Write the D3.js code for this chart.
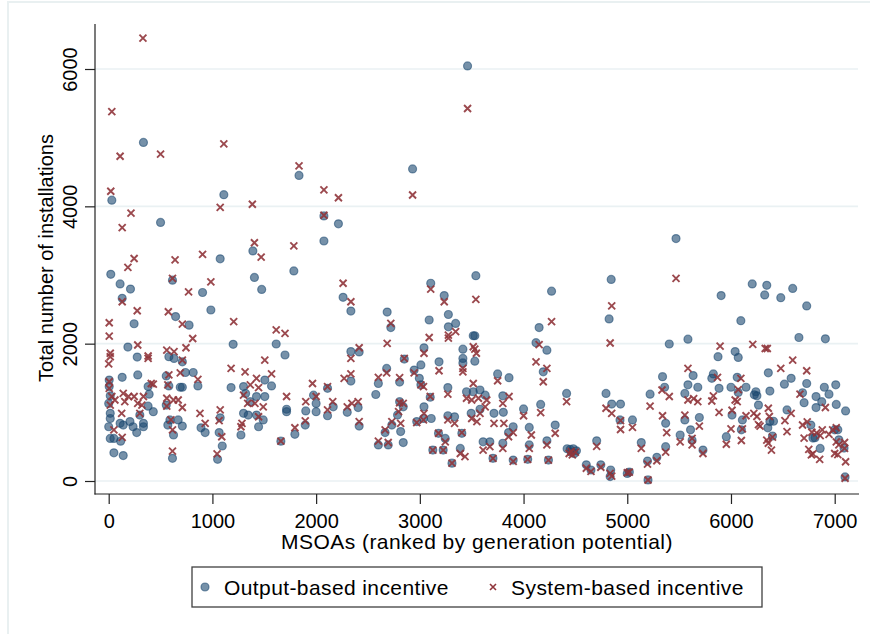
<!DOCTYPE html>
<html>
<head>
<meta charset="utf-8">
<title>installations scatter</title>
<script src="https://d3js.org/d3.v7.min.js"></script>
<style>
  body { margin: 0; background: #fff; }
  text { font-family: Arial, "Liberation Sans", sans-serif; fill: #000; }
</style>
</head>
<body>
<script>

// [rank, total installations]
var outputPoints = [
  [335,4930],[30,4090],[500,3765],[1110,4170],[1835,4450],[2075,3860],[2215,3745],[2075,3495],[1390,3350],[1075,3235],
  [3460,6045],[2930,4545],[5470,3530],
  [20,3010],[110,2870],[210,2795],[130,2660],[245,2290],[185,1950],[275,1805],[280,1545],[130,1510],[5,1470],[5,1375],
  [15,1240],[0,1130],[15,985],[15,910],[0,790],[15,620],[50,620],[50,410],[140,370],[110,840],[140,815],[205,865],
  [235,790],[270,705],[335,840],[335,790],[115,580],[300,960],[380,1375],[390,1265],[380,1090],[430,1010],[615,2925],
  [645,2395],[775,2270],[580,1810],[630,1785],[710,1735],[740,1580],[815,1580],[555,1530],[580,1385],[690,1365],
  [710,1365],[860,1385],[555,1105],[590,890],[570,815],[670,890],[625,670],[710,800],[615,330],[905,2745],[985,2490],
  [1200,1990],[1180,1360],[890,775],[930,705],[1075,920],[1065,705],[1095,510],[1050,315],[1405,2965],[1475,2790],
  [1785,3060],[1615,1995],[1700,1835],[1300,1375],[1320,1275],[1425,1230],[1505,1230],[1505,1470],[1570,1385],
  [1365,1155],[1300,985],[1345,960],[1425,960],[1490,890],[1445,790],[1275,670],[1715,1045],[1715,1010],[1795,680],
  [1895,815],[1900,1020],[1975,1250],[2000,1130],[2000,1010],[2110,950],[2110,1350],[2165,1080],[2300,1000],
  [2260,2675],[2335,2475],[2335,1885],[2335,1455],[1660,580],
  [2415,1880],[2405,1070],[2415,800],[2685,2460],[2720,2235],[2850,1775],[2680,1640],[2600,1420],[2575,1260],
  [2805,1440],[2805,1155],[2840,1080],[2785,960],[2730,815],[2665,705],[2600,525],[2695,525],[2840,560],[2815,720],
  [3105,2880],[3235,2700],[3275,2425],[3275,2245],[3345,2295],[3090,2345],[3540,2990],[3530,2115],[3515,2115],
  [3530,1745],[3415,1920],[3415,1785],[3415,1720],[3040,1940],[3185,1735],[3010,1690],[2945,1615],[2995,1495],
  [3010,1400],[3100,1220],[3040,1080],[3035,910],[3110,910],[2970,865],[3270,1360],[3270,950],[3335,935],[3180,695],
  [3245,620],[3405,695],[3125,450],[3225,450],[3310,260],[3390,475],[3450,1300],[3515,1300],[3580,1325],[3630,1250],
  [3750,1560],[3860,1505],[3800,1240],[3495,985],[3580,1045],[3715,985],[3805,1000],[3900,790],[3855,705],[3800,550],
  [3610,570],[3675,570],[3705,330],[3900,305],[4000,1050],[4055,780],[4055,525],[4040,315],[4150,2235],[4120,2015],
  [4225,1905],[4190,1590],[4270,2765],[4165,1115],[4305,815],[4225,585],[4240,305],[4415,1275],[4420,470],[4450,460],
  [4480,470],[4510,440],[4460,420],[4490,400],[4705,585],[4605,235],[4650,160],[4745,235],[4845,2935],[4825,2360],
  [4795,1275],
  [5405,1995],[5585,2065],[5905,2700],[6205,2870],[6345,2850],[6325,2710],[6480,2670],[6595,2805],[6730,2550],
  [6095,2335],[6655,2090],[6910,2070],[5875,1810],[6040,1885],[6070,1800],[5340,1520],[5360,1365],[5220,1265],
  [4850,1120],[4935,1120],[4930,890],[5050,890],[5135,560],[5195,290],[5285,345],[5370,500],[5200,15],[4840,160],
  [4835,65],[5000,110],[5020,130],[5370,840],[5510,670],[5610,745],[5625,595],[5555,890],[5695,925],[5730,450],
  [5555,1275],[5585,1400],[5635,1535],[5680,1365],[5815,1495],[5830,1560],[5885,1350],[6000,1365],[6060,1510],
  [6070,1290],[6145,1365],[6240,1300],[6225,1255],[6250,1240],[6265,1105],[6360,1575],[6375,1310],[6515,1410],
  [6580,1495],[6730,1420],[6690,1285],[6705,1140],[6820,1230],[6820,1070],[6875,1155],[6900,1365],[6945,1265],
  [7010,1400],[7015,1115],[7105,1020],[6540,1035],[6375,865],[6410,870],[6355,775],[6400,655],[6110,890],[6010,960],
  [6100,745],[5955,645],[6770,815],[6790,625],[6810,630],[6860,475],[7000,745],[7030,745],[7040,600],[7090,480],
  [7100,60]
];

var systemPoints = [
  [330,6450],[30,5380],[110,4730],[500,4760],[1110,4910],[1835,4590],[20,4220],[215,3900],[130,3690],[1075,3985],
  [1385,4030],[2075,4240],[2215,4125],[2075,3870],[1405,3470],[1470,3260],[1785,3425],[905,3300],[245,3240],[640,3220],
  [3460,5425],[2930,4165],
  [185,3110],[615,2950],[985,2900],[770,2755],[130,2610],[275,2480],[5,2305],[5,2110],[15,1860],[15,1810],[0,1705],
  [280,1980],[380,1820],[380,1785],[575,2465],[710,2285],[810,2075],[745,1940],[560,1905],[630,1885],[710,1760],
  [690,1575],[860,1480],[580,1545],[570,1400],[410,1420],[430,1410],[5,1445],[5,1350],[30,1230],[60,1180],[140,1275],
  [190,1230],[245,1230],[335,1230],[155,1155],[280,1130],[320,1105],[15,1105],[125,985],[300,985],[50,745],[130,635],
  [560,1205],[625,1180],[670,1180],[710,1070],[560,1090],[615,745],[600,890],[615,435],[880,985],[930,840],[1075,1035],
  [1065,880],[1090,645],[1045,395],[1180,1640],[1205,2320],[1315,1590],[1425,1495],[1505,1760],[1570,1560],[1300,1250],
  [1365,1400],[1445,1360],[1340,1130],[1410,1130],[1490,1080],[1445,935],[1285,840],[1275,790],[1615,2200],[1700,2150],
  [1715,1230],[1795,775],[1895,875],[1965,1420],[1900,1155],[2000,1230],[2110,1375],[2160,1155],[2110,1035],[2260,2880],
  [2335,2610],[2335,1785],[2335,1560],[2270,1495],[2300,1080],[1660,580],
  [2415,1940],[2405,1155],[2415,865],[2345,1130],[3105,2795],[3235,2610],[3540,2645],[3090,2090],[3275,2125],
  [3345,2175],[3275,2080],[2720,2295],[2685,2005],[2850,1785],[2680,1575],[2600,1510],[2805,1505],[2805,1140],
  [2795,1010],[2730,865],[2665,745],[2600,580],[2695,560],[2815,840],[2840,1130],[3530,1920],[3545,1860],[3515,1955],
  [3415,1640],[3415,1590],[3515,1420],[3040,1860],[3185,1605],[2945,1575],[3010,1400],[3035,1375],[3100,1230],
  [3040,985],[3035,890],[2970,850],[3270,1265],[3270,890],[3335,840],[3180,695],[3245,570],[3405,705],[3125,450],
  [3225,450],[3310,260],[3390,400],[3435,355],[3450,1205],[3500,1180],[3565,1205],[3630,1080],[3645,1180],[3750,1460],
  [3860,1230],[3800,1130],[3500,910],[3580,985],[3550,865],[3715,840],[3810,840],[3900,705],[3855,645],[3800,475],
  [3610,450],[3675,500],[3705,330],[3900,285],[4000,950],[4075,670],[4055,475],[4040,315],[4150,1985],[4120,1735],
  [4225,1640],[4190,1445],[4270,2320],[4165,995],[4305,695],[4225,525],[4240,305],[4415,1155],[4440,400],[4470,380],
  [4500,420],[4460,430],[4705,505],[4605,185],[4650,140],[4745,200],[4850,2550],[4835,2010],[4795,1060],
  [5470,2950],[5895,1965],[6210,1990],[6330,1930],[6350,1930],[6595,1760],[6730,1605],[6480,1640],[5585,1640],
  [5335,1325],[5405,1230],[5220,1090],[4850,985],[4935,880],[4935,750],[5050,780],[5135,475],[5195,245],[5285,295],
  [5370,420],[5200,15],[4835,110],[4850,70],[5000,120],[5020,130],[5340,950],[5380,705],[5510,570],[5555,960],
  [5625,525],[5625,620],[5695,800],[5730,400],[5585,1180],[5680,1155],[5640,1200],[5815,1165],[5830,1240],[5885,1000],
  [5870,1510],[5955,535],[6010,1030],[6000,760],[6060,1155],[6040,1180],[6070,1330],[6095,1495],[6110,760],[6100,590],
  [6145,950],[6220,985],[6250,940],[6265,820],[6280,800],[6360,1060],[6370,940],[6345,595],[6360,550],[6390,450],
  [6400,640],[6520,880],[6540,720],[6580,985],[6665,1265],[6690,815],[6705,625],[6735,860],[6750,460],[6775,380],
  [6790,395],[6855,315],[6825,700],[6860,660],[6910,1070],[6880,745],[6945,680],[6980,745],[7015,775],[7000,400],
  [7030,385],[7015,570],[7040,525],[7095,560],[7095,475],[7105,280],[7100,40],[6780,710]
];

var xTicks = [0, 1000, 2000, 3000, 4000, 5000, 6000, 7000];
var yTicks = [0, 2000, 4000, 6000];
var seriesNames = ["Output-based incentive", "System-based incentive"];
var xTitle = "MSOAs (ranked by generation potential)";
var yTitle = "Total number of installations";

var width = 870, height = 634;
var navy = "#1a476f", maroon = "#90353b";

var svg = d3.select("body").append("svg").attr("width", width).attr("height", height);

// faint outer graph region edge
svg.append("path").attr("d", "M8,634V2H870").attr("fill", "none")
  .attr("stroke", "#e9f0f1").attr("stroke-width", 2);

var x = d3.scaleLinear().domain([0, 7000]).range([108.7, 834.7]);
var y = d3.scaleLinear().domain([0, 6000]).range([481, 69]);
var plotLeft = 95, plotRight = 859, plotTop = 24, plotBottom = 494;

// gridlines
svg.append("g").selectAll("line").data(yTicks).enter().append("line")
  .attr("x1", plotLeft).attr("x2", plotRight - 1)
  .attr("y1", function(d){ return y(d); }).attr("y2", function(d){ return y(d); })
  .attr("stroke", "#eaf1f3").attr("stroke-width", 1.6);

// output-based circles
svg.append("g").selectAll("circle").data(outputPoints).enter().append("circle")
  .attr("cx", function(d){ return x(d[0]); })
  .attr("cy", function(d){ return y(d[1]); })
  .attr("r", 4)
  .attr("fill", navy).attr("fill-opacity", 0.6)
  .attr("stroke", navy).attr("stroke-opacity", 0.55).attr("stroke-width", 1.2);

// system-based crosses, drawn over the circles
var cross = "M-3.5,-3.5L3.5,3.5M-3.5,3.5L3.5,-3.5";
svg.append("g").selectAll("path").data(systemPoints).enter().append("path")
  .attr("d", cross)
  .attr("transform", function(d){ return "translate(" + x(d[0]) + "," + y(d[1]) + ")"; })
  .attr("fill", "none").attr("stroke", maroon).attr("stroke-width", 1.9).attr("stroke-opacity", 0.9);

// axis lines
svg.append("line").attr("x1", plotLeft).attr("x2", plotLeft).attr("y1", plotTop).attr("y2", plotBottom + 0.5)
  .attr("stroke", "#222").attr("stroke-width", 1.2);
svg.append("line").attr("x1", plotLeft - 0.5).attr("x2", plotRight).attr("y1", plotBottom).attr("y2", plotBottom)
  .attr("stroke", "#222").attr("stroke-width", 1.2);

// x axis
var xAxis = svg.append("g").attr("transform", "translate(0," + plotBottom + ")")
  .call(d3.axisBottom(x).tickValues(xTicks).tickSize(10).tickFormat(d3.format("d")));
xAxis.select(".domain").remove();
xAxis.selectAll("line").attr("stroke", "#222").attr("stroke-width", 1.2);
xAxis.selectAll("text").attr("y", 34).attr("dy", 0)
  .style("font-size", "20px").style("font-family", "Arial, 'Liberation Sans', sans-serif").attr("fill", "#000");

// y axis, labels turned upright like Stata
var yAxis = svg.append("g").attr("transform", "translate(" + plotLeft + ",0)")
  .call(d3.axisLeft(y).tickValues(yTicks).tickSize(10).tickFormat(d3.format("d")));
yAxis.select(".domain").remove();
yAxis.selectAll("line").attr("stroke", "#222").attr("stroke-width", 1.2);
yAxis.selectAll("text")
  .attr("x", 0).attr("dy", 0)
  .attr("transform", "translate(-18,0) rotate(-90)")
  .attr("text-anchor", "middle")
  .style("font-size", "20px").style("font-family", "Arial, 'Liberation Sans', sans-serif").attr("fill", "#000");

// titles
svg.append("text").attr("x", 477).attr("y", 549).attr("text-anchor", "middle")
  .style("font-size", "21px").style("letter-spacing", "0.45px").text(xTitle);
svg.append("text").attr("transform", "translate(53,258) rotate(-90)").attr("text-anchor", "middle")
  .style("font-size", "20px").text(yTitle);

// legend
var legend = svg.append("g");
legend.append("rect").attr("x", 192).attr("y", 567).attr("width", 570).attr("height", 40)
  .attr("fill", "#fff").attr("stroke", "#404040").attr("stroke-width", 1.3);
legend.append("circle").attr("cx", 205).attr("cy", 587).attr("r", 4)
  .attr("fill", navy).attr("fill-opacity", 0.6)
  .attr("stroke", navy).attr("stroke-opacity", 0.55).attr("stroke-width", 1.2);
legend.append("text").attr("x", 224).attr("y", 595)
  .style("font-size", "21px").style("letter-spacing", "0.4px").text(seriesNames[0]);
legend.append("path").attr("d", "M-3,-3L3,3M-3,3L3,-3").attr("transform", "translate(493,587)")
  .attr("fill", "none").attr("stroke", maroon).attr("stroke-width", 1.6);
legend.append("text").attr("x", 511).attr("y", 595)
  .style("font-size", "21px").style("letter-spacing", "0.45px").text(seriesNames[1]);

</script>
</body>
</html>
